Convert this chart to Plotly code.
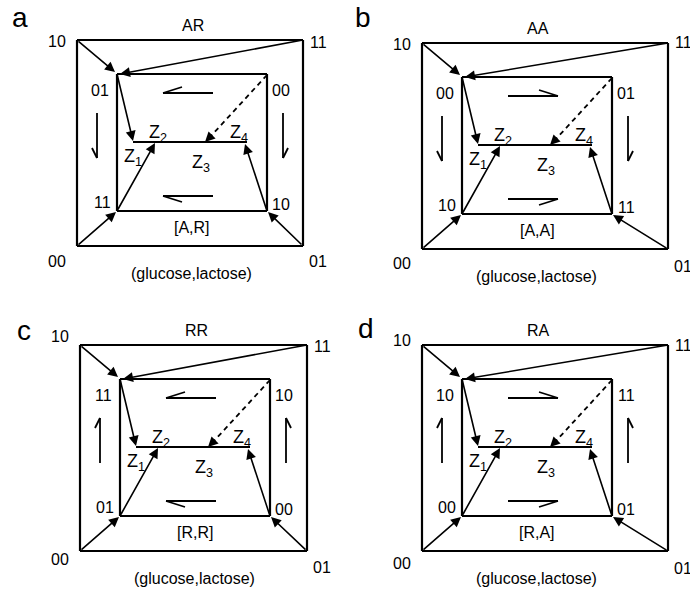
import plotly.graph_objects as go

# ---- diagram content ----
PANEL_LETTERS = ["a", "b", "c", "d"]
PANEL_TITLES = ["AR", "AA", "RR", "RA"]
OUTER_LABELS = ["10", "11", "00", "01"]          # TL, TR, BL, BR
INNER_LABELS_A = ["01", "00", "11", "10"]        # TL, TR, BL, BR
INNER_LABELS_B = ["00", "01", "10", "11"]
INNER_LABELS_C = ["11", "10", "01", "00"]
INNER_LABELS_D = ["10", "11", "00", "01"]
MODE_LABELS = ["[A,R]", "[A,A]", "[R,R]", "[R,A]"]
H_DIR = [-1, 1, -1, 1]    # -1: harpoons point left, 1: right
V_DIR = [1, 1, -1, -1]    # 1: harpoons point down, -1: up
AXIS_LABEL = "(glucose,lactose)"
Z_LABELS = ["Z<sub>1</sub>", "Z<sub>2</sub>", "Z<sub>3</sub>", "Z<sub>4</sub>"]

INNER = [INNER_LABELS_A, INNER_LABELS_B, INNER_LABELS_C, INNER_LABELS_D]

# panel placement (outer top-left corner, outer width, pixels)
ORIGINS = [(77, 40), (422, 43), (80, 345), (422, 345)]
OUTER_W = [226, 246, 227, 246]
H = 206
LETTER_POS = [(20, 17), (363, 17), (24, 330), (366, 328)]
# vertical offsets of corner labels: TL, TR, BL, BR
CORNER_DY = [(1, 2, 15, 15), (1, -1, 14, 17), (-9, 1, 8, 16), (-5, 0, 12, 17)]

FONT = "Arial, Liberation Sans, Helvetica, sans-serif"
LW = 2.2
AW = 1.6

shapes = []
annots = []


def line(x0, y0, x1, y1, w=LW, dash=None):
    d = dict(type="line", xref="x", yref="y", x0=x0, y0=y0, x1=x1, y1=y1,
             line=dict(color="black", width=w))
    if dash:
        d["line"]["dash"] = dash
    shapes.append(d)


def arrow(x0, y0, x1, y1):
    annots.append(dict(x=x1, y=y1, ax=x0, ay=y0, xref="x", yref="y",
                       axref="x", ayref="y", text="", showarrow=True,
                       arrowhead=2, arrowsize=1.25, arrowwidth=AW,
                       arrowcolor="black", standoff=0, startstandoff=0))


def text(x, y, s, size=16):
    annots.append(dict(x=x, y=y, xref="x", yref="y", text=s, showarrow=False,
                       font=dict(family=FONT, size=size, color="black"),
                       xanchor="center", yanchor="middle"))


for i in range(4):
    ox, oy = ORIGINS[i]
    W = OUTER_W[i]
    P = lambda dx, dy: (ox + dx, oy + dy)

    # outer square
    line(*P(0, 0), *P(W, 0))
    line(*P(W, 0), *P(W, H))
    line(*P(W, H), *P(0, H))
    line(*P(0, H), *P(0, 0))
    # inner rectangle
    ix0, ix1, iy0, iy1 = 40, 190, 34, 171
    line(*P(ix0, iy0), *P(ix1, iy0))
    line(*P(ix1, iy0), *P(ix1, iy1))
    line(*P(ix1, iy1), *P(ix0, iy1))
    line(*P(ix0, iy1), *P(ix0, iy0))
    # Z line
    line(*P(56, 102), *P(170, 102))

    # corner arrows
    arrow(*P(0, 0), *P(38, 32))
    arrow(*P(W, 0), *P(43, 34))
    arrow(*P(0, H), *P(39, 172))
    arrow(*P(W, H), *P(191, 172))
    # inner -> Z arrows
    arrow(*P(40, 34), *P(56, 101))
    arrow(*P(40, 171), *P(78, 103))
    arrow(*P(190, 171), *P(168, 104))
    # dashed arrow to Z3
    line(*P(190, 35), *P(134, 96), w=1.8, dash="5px,4px")
    arrow(*P(134, 96), *P(128, 102))

    # horizontal harpoons
    hx0, hx1 = 86, 136
    for hy, bs in ((53, -1), (156, 1)):
        line(*P(hx0, hy), *P(hx1, hy), w=1.8)
        if H_DIR[i] < 0:
            line(*P(hx0, hy), *P(hx0 + 19, hy + 6 * bs), w=1.8)
        else:
            line(*P(hx1, hy), *P(hx1 - 19, hy + 6 * bs), w=1.8)
    # vertical harpoons
    vy0, vy1 = 73, 118
    for vx, bs in ((20, -1), (206, 1)):
        line(*P(vx, vy0), *P(vx, vy1), w=1.8)
        if V_DIR[i] > 0:
            line(*P(vx, vy1), *P(vx + 5 * bs, vy1 - 10), w=1.8)
        else:
            line(*P(vx, vy0), *P(vx + 5 * bs, vy0 + 10), w=1.8)

    # texts
    dtl, dtr, dbl, dbr = CORNER_DY[i]
    text(*LETTER_POS[i], PANEL_LETTERS[i], size=28)
    text(*P(116, -15), PANEL_TITLES[i])
    text(*P(-20, dtl), OUTER_LABELS[0])
    text(*P(W + 15, dtr), OUTER_LABELS[1])
    text(*P(-20, H + dbl), OUTER_LABELS[2])
    text(*P(W + 15, H + dbr), OUTER_LABELS[3])
    text(*P(114, 233), AXIS_LABEL)
    text(*P(23, 50), INNER[i][0])
    text(*P(204, 50), INNER[i][1])
    text(*P(25, 162), INNER[i][2])
    text(*P(204, 164), INNER[i][3])
    text(*P(115, 187), MODE_LABELS[i])
    text(*P(56, 117), Z_LABELS[0], size=18)
    text(*P(81, 93), Z_LABELS[1], size=18)
    text(*P(124, 123), Z_LABELS[2], size=18)
    text(*P(162, 93), Z_LABELS[3], size=18)

fig = go.Figure()
fig.update_layout(
    width=690, height=589, autosize=False,
    margin=dict(l=0, r=0, t=0, b=0),
    paper_bgcolor="white", plot_bgcolor="white",
    xaxis=dict(range=[0, 690], visible=False, fixedrange=True),
    yaxis=dict(range=[589, 0], visible=False, fixedrange=True),
    shapes=shapes, annotations=annots, showlegend=False,
)
fig.write_html("out.html", config={"displayModeBar": False, "staticPlot": True},
               post_script="document.body.style.margin='0';")
